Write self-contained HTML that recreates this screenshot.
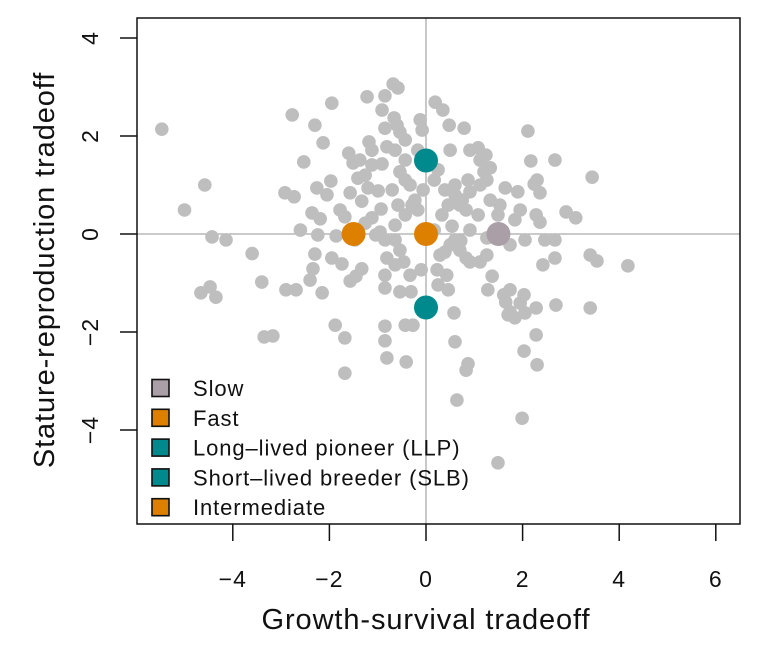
<!DOCTYPE html>
<html><head><meta charset="utf-8"><style>
html,body{margin:0;padding:0;background:#fff;}
svg text{font-family:"Liberation Sans",sans-serif;fill:#111;}
</style></head><body>
<svg id="chart" width="777" height="646" viewBox="0 0 777 646"></svg>
<script>
const xTicks=[-4,-2,0,2,4,6];
const yTicks=[-4,-2,0,2,4];
const gx=[-5.47,-5.0,-4.58,-4.43,-4.14,-4.66,-4.47,-4.35,-3.6,-3.4,-3.35,-3.17,-2.77,-2.92,-2.73,-2.53,-2.6,-2.9,-2.69,-2.4,-2.15,-2.34,-2.3,-2.13,-1.95,-1.97,-2.26,-2.36,-2.19,-2.24,-1.95,-1.74,-2.3,-1.86,-1.68,-1.57,-1.88,-1.68,-1.68,-1.47,-1.33,-1.45,-1.51,-1.41,-1.57,-1.33,-1.18,-1.22,-1.6,-1.04,-0.93,-0.99,-1.12,-1.2,-0.91,-0.81,-0.85,-0.66,-0.85,-0.68,-0.58,-0.91,-0.6,-0.54,-0.43,-0.54,-0.43,-0.7,-0.33,-0.29,-0.43,-0.64,-0.85,-0.54,-0.81,-0.85,-0.46,-0.33,-0.85,-0.54,-0.31,-0.85,-0.85,-0.81,-0.43,-0.27,-0.41,-0.12,-0.08,-0.17,-0.06,-0.17,-0.1,0.17,0.29,0.23,0.43,0.33,0.46,0.6,0.6,0.75,0.39,0.17,0.25,0.5,0.19,0.35,0.48,0.79,0.91,1.08,1.24,1.12,1.33,1.2,1.26,1.12,0.87,0.91,0.83,1.08,1.33,1.53,1.64,1.43,1.26,0.91,0.6,0.5,0.7,0.91,0.83,0.39,1.9,1.95,1.84,2.24,2.36,2.28,2.36,2.46,2.67,2.67,2.11,2.17,2.3,2.9,3.1,3.44,3.4,3.54,4.18,2.69,3.4,2.42,2.67,1.26,1.12,1.37,1.28,1.61,1.74,1.65,1.7,1.84,1.74,2.05,1.95,2.03,0.58,0.6,0.87,0.83,0.64,2.28,2.28,2.03,2.3,1.99,1.49,0.25,0.46,0.72,0.54,-0.64,-0.43,-1.12,-1.26,-1.12,-1.37,-0.23,-0.58,-0.64,-0.95,-1.26,-2.05,-1.78,-0.64,0.7,1.49,1.74,2.05];
const gy=[2.14,0.49,1.0,-0.06,-0.12,-1.2,-1.08,-1.29,-0.4,-0.98,-2.1,-2.08,2.43,0.84,0.76,1.47,0.08,-1.14,-1.14,-0.94,-1.2,-0.71,2.22,1.86,2.67,1.08,0.94,0.43,0.31,-0.02,-0.49,-0.61,-0.41,-0.04,0.35,-0.96,-1.86,-2.12,-2.84,-0.12,-0.71,-0.86,1.45,1.14,0.84,0.67,1.88,2.8,1.65,-0.02,0.51,0.88,0.33,0.94,1.43,1.78,2.16,2.37,2.82,3.06,2.98,2.53,2.22,2.08,1.51,1.27,1.1,0.9,1.0,0.59,0.39,0.18,-0.12,-0.33,-0.49,-0.84,-0.57,-0.84,-1.1,-1.18,-1.18,-1.88,-2.18,-2.53,-1.86,-1.86,-2.61,2.33,2.12,1.71,0.9,0.49,-0.73,0.08,-0.43,-0.73,-0.84,0.39,0.59,1.0,0.8,0.69,0.9,1.1,1.31,1.71,2.69,2.53,2.22,2.16,1.71,1.76,1.61,1.51,1.35,1.27,1.1,1.0,1.1,0.86,0.49,0.39,0.69,0.59,0.94,0.04,-0.08,0.08,-0.12,-0.22,-0.33,-0.57,-0.49,-0.37,0.86,0.49,0.29,1.02,0.84,0.39,0.24,-0.12,1.51,-0.12,2.1,1.49,1.1,0.45,0.33,1.16,-0.43,-0.55,-0.65,-1.45,-1.51,-0.63,-0.49,-0.43,-0.57,-0.86,-1.14,-1.24,-1.14,-1.39,-1.65,-1.71,-1.59,-1.61,-1.41,-1.24,-1.61,-2.2,-2.65,-2.78,-3.39,-1.51,-2.06,-2.39,-2.67,-3.76,-4.67,-1.04,-1.14,-0.14,0.16,1.71,1.92,1.41,1.2,1.71,1.51,0.69,0.59,-0.12,0.04,0.22,0.8,0.49,-0.63,0.59,0.39,-0.22,-0.12];
const groupNames=["Slow","Fast","Long\u2013lived pioneer (LLP)","Short\u2013lived breeder (SLB)","Intermediate"];
const groupX=[1.5,-1.5,0,0,0];
const groupY=[0,0,1.5,-1.5,0];
const groupColors=["#ab9fa7","#dd8000","#008a8e","#008a8e","#dd8000"];

const NS="http://www.w3.org/2000/svg";
const svg=document.getElementById('chart');
const L=137,R=740,T=18,B=524;
const sx=v=>426+v*48.3;
const sy=v=>234-v*49;
function mk(tag,attrs,parent){const e=document.createElementNS(NS,tag);for(const k in attrs)e.setAttribute(k,attrs[k]);(parent||svg).appendChild(e);return e;}

const clip=mk('clipPath',{id:'pc'});mk('rect',{x:L,y:T,width:R-L,height:B-T},clip);
const plot=mk('g',{'clip-path':'url(#pc)'});


let h=mk('line',{x1:L,x2:R,y1:sy(0),y2:sy(0),stroke:'#aaa','stroke-width':1.3},plot);


let v=mk('line',{x1:sx(0),x2:sx(0),y1:T,y2:B,stroke:'#aaa','stroke-width':1.3},plot);


for(let i=0;i<gx.length;i++){
  const c=mk('circle',{cx:sx(gx[i]),cy:sy(gy[i]),r:6.8,fill:'#bebebe'},plot);
  
  
}
for(let i=0;i<groupX.length;i++){
  const c=mk('circle',{cx:sx(groupX[i]),cy:sy(groupY[i]),r:12,fill:groupColors[i]},plot);
  
  
}
const box=mk('rect',{x:L,y:T,width:R-L,height:B-T,fill:'none',stroke:'#111','stroke-width':1.5});


xTicks.forEach(t=>{
  const l=mk('line',{x1:sx(t),x2:sx(t),y1:B,y2:B+17,stroke:'#111','stroke-width':1.5});
  
  
  const tx=mk('text',{x:sx(t),y:587,'text-anchor':'middle','font-size':23,'letter-spacing':1});
  tx.textContent=(t<0?'\u2212'+(-t):t);
  
  
});
yTicks.forEach(t=>{
  const l=mk('line',{x1:L-17,x2:L,y1:sy(t),y2:sy(t),stroke:'#111','stroke-width':1.5});
  
  
  const tx=mk('text',{x:0,y:0,'text-anchor':'middle','font-size':23,'letter-spacing':1,transform:`translate(98,${sy(t)}) rotate(-90)`});
  tx.textContent=(t<0?'\u2212'+(-t):t);
  
  
});
const xt=mk('text',{x:426,y:629,'text-anchor':'middle','font-size':29,'letter-spacing':0.9});
xt.textContent='Growth-survival tradeoff';


const yt=mk('text',{x:0,y:0,'text-anchor':'middle','font-size':29,'letter-spacing':0.9,transform:'translate(54,270) rotate(-90)'});
yt.textContent='Stature-reproduction tradeoff';


const lg=mk('g',{});


groupNames.forEach((n,i)=>{
  const cy=388+i*29.8;
  const r=mk('rect',{x:152,y:cy-8.5,width:17,height:17,fill:groupColors[i],stroke:'#111','stroke-width':1.6},lg);
  
  
  const t=mk('text',{x:193,y:cy+8,'font-size':22,'letter-spacing':0.9},lg);
  t.textContent=n;
  
  
});
</script>
</body></html>
